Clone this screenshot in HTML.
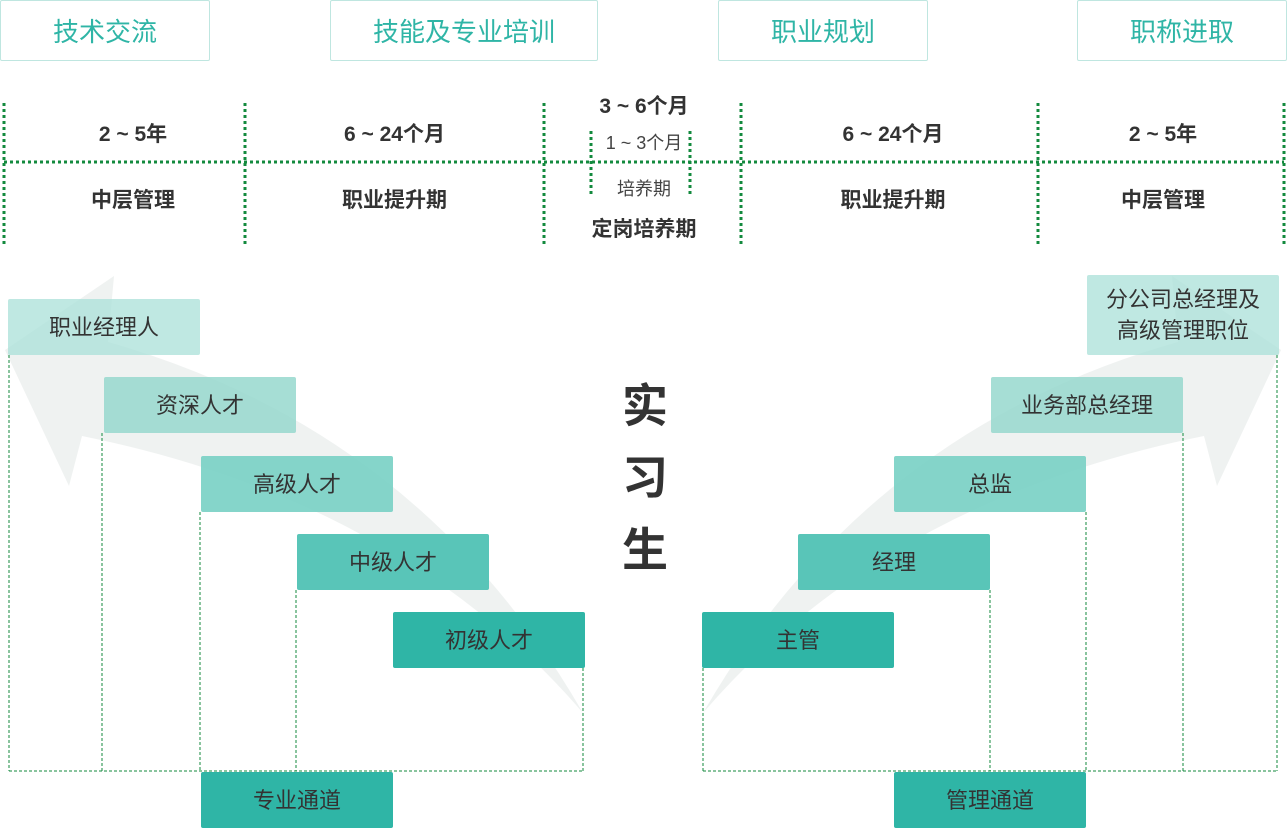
<!DOCTYPE html>
<html><head><meta charset="utf-8"><style>
*{margin:0;padding:0;box-sizing:border-box}
body{width:1287px;height:829px;background:#fff;position:relative;overflow:hidden;font-family:"Liberation Sans","Noto Sans CJK SC",sans-serif;color:#333}
.a{position:absolute}
.top{position:absolute;top:0;height:61px;border:1px solid #bfe6e0;border-radius:2px;color:#2fb5a6;font-size:26px;display:flex;align-items:center;justify-content:center}
.t{position:absolute;font-weight:bold;font-size:21px;text-align:center;white-space:nowrap}
.b{position:absolute;width:192px;height:56px;border-radius:2px;display:flex;align-items:center;justify-content:center;font-size:22px;color:#333;text-align:center;line-height:31px}
</style></head><body>
<div class="top" style="left:0;width:210px">技术交流</div>
<div class="top" style="left:330px;width:268px">技能及专业培训</div>
<div class="top" style="left:718px;width:210px">职业规划</div>
<div class="top" style="left:1077px;width:210px">职称进取</div>

<svg class="a" style="left:0;top:0" width="1287" height="829">
<g stroke="#138a3e" stroke-width="3" stroke-dasharray="3,3" fill="none">
<line x1="4" y1="103" x2="4" y2="246"/><line x1="245" y1="103" x2="245" y2="246"/>
<line x1="544" y1="103" x2="544" y2="246"/><line x1="741" y1="103" x2="741" y2="246"/>
<line x1="1038" y1="103" x2="1038" y2="246"/><line x1="1284" y1="103" x2="1284" y2="246"/>
<line x1="4" y1="162" x2="1284" y2="162"/>
<line x1="591" y1="131" x2="591" y2="197"/><line x1="690" y1="131" x2="690" y2="197"/>
</g>
<g fill="#e9eeec" opacity="0.75">
<path d="M583 713 Q420 430 108 342 L114 276 L5 350 L69 486 L82 436 Q400 500 583 713 Z"/>
<path d="M703 713 Q866 430 1178 342 L1172 276 L1281 350 L1217 486 L1204 436 Q886 500 703 713 Z"/>
</g>
</svg>

<div class="t" style="left:4px;width:258px;top:118px">2 ~ 5年</div>
<div class="t" style="left:4px;width:258px;top:184px">中层管理</div>
<div class="t" style="left:245px;width:299px;top:118px">6 ~ 24个月</div>
<div class="t" style="left:245px;width:299px;top:184px">职业提升期</div>
<div class="t" style="left:544px;width:200px;top:90px">3 ~ 6个月</div>
<div class="t" style="left:544px;width:200px;top:129px;font-weight:normal;font-size:18px;color:#444">1 ~ 3个月</div>
<div class="t" style="left:544px;width:200px;top:175px;font-weight:normal;font-size:18px;color:#444">培养期</div>
<div class="t" style="left:544px;width:200px;top:213px">定岗培养期</div>
<div class="t" style="left:741px;width:304px;top:118px">6 ~ 24个月</div>
<div class="t" style="left:741px;width:304px;top:184px">职业提升期</div>
<div class="t" style="left:1038px;width:250px;top:118px">2 ~ 5年</div>
<div class="t" style="left:1038px;width:250px;top:184px">中层管理</div>

<div class="a" style="left:617px;top:370px;font-size:46px;line-height:72px;width:56px;text-align:center;color:#333;font-weight:bold">实<br>习<br>生</div>

<div class="b" style="left:8px;top:299px;background:rgba(170,224,216,.75)">职业经理人</div>
<div class="b" style="left:104px;top:377px;background:rgba(150,216,206,.85)">资深人才</div>
<div class="b" style="left:201px;top:456px;background:rgba(120,208,196,.9)">高级人才</div>
<div class="b" style="left:297px;top:534px;background:rgba(80,194,180,.95)">中级人才</div>
<div class="b" style="left:393px;top:612px;background:#2fb5a6">初级人才</div>
<div class="b" style="left:201px;top:772px;background:#2fb5a6">专业通道</div>

<div class="b" style="left:1087px;top:275px;height:80px;background:rgba(170,224,216,.75)">分公司总经理及<br>高级管理职位</div>
<div class="b" style="left:991px;top:377px;background:rgba(150,216,206,.85)">业务部总经理</div>
<div class="b" style="left:894px;top:456px;background:rgba(120,208,196,.9)">总监</div>
<div class="b" style="left:798px;top:534px;background:rgba(80,194,180,.95)">经理</div>
<div class="b" style="left:702px;top:612px;background:#2fb5a6">主管</div>
<div class="b" style="left:894px;top:772px;background:#2fb5a6">管理通道</div>

<svg class="a" style="left:0;top:0" width="1287" height="829">
<g stroke="#138a3e" stroke-width="1" stroke-dasharray="3,2" fill="none">
<line x1="9" y1="355" x2="9" y2="771"/><line x1="102" y1="433" x2="102" y2="771"/>
<line x1="200" y1="512" x2="200" y2="771"/><line x1="296" y1="590" x2="296" y2="771"/>
<line x1="583" y1="668" x2="583" y2="771"/><line x1="9" y1="771" x2="583" y2="771"/>
<line x1="703" y1="668" x2="703" y2="771"/><line x1="990" y1="590" x2="990" y2="771"/>
<line x1="1086" y1="512" x2="1086" y2="771"/><line x1="1183" y1="433" x2="1183" y2="771"/>
<line x1="1277" y1="355" x2="1277" y2="771"/><line x1="703" y1="771" x2="1277" y2="771"/>
</g>
</svg>
</body></html>
